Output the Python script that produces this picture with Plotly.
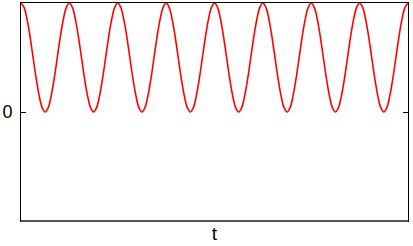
import plotly.graph_objects as go

# values: one sample every sixteenth of a period
t_values = [i * 0.0625 for i in range(129)]
y_period = [1.0, 0.96, 0.85, 0.69, 0.5, 0.31, 0.15, 0.04,
            0.0, 0.04, 0.15, 0.31, 0.5, 0.69, 0.85, 0.96]
y_values = y_period * 8 + [1.0]
y_tick_vals = [0]
y_tick_text = ["0"]
x_label = "t"

fig = go.Figure()
fig.add_trace(go.Scatter(
    x=t_values, y=y_values, mode="lines",
    line=dict(color="#ff0000", width=1.6, shape="spline", smoothing=1.0),
    hoverinfo="skip", showlegend=False, cliponaxis=False,
))

fig.update_layout(
    width=413, height=246,
    margin=dict(l=21, r=5, t=3, b=25),
    paper_bgcolor="white", plot_bgcolor="white",
    font=dict(family="Liberation Sans, Arial, sans-serif", size=18, color="black"),
)
fig.update_xaxes(
    range=[0, 8], showgrid=False, zeroline=False, showticklabels=False,
    ticks="", showline=True, linecolor="black", linewidth=1, mirror=True,
    title=dict(text=x_label, standoff=5, font=dict(size=19)),
)
fig.update_yaxes(
    range=[-1, 1], showgrid=False, zeroline=False,
    tickvals=y_tick_vals, ticktext=y_tick_text,
    ticks="inside", ticklen=5, tickcolor="black", tickwidth=1,
    showline=True, linecolor="black", linewidth=1, mirror="ticks",
    tickfont=dict(size=18), ticklabelstandoff=4,
)
fig.add_shape(type="line", xref="paper", yref="paper", x0=0, x1=1, y0=0, y1=0,
              line=dict(color="#555555", width=2))

fig.write_html("out.html")
